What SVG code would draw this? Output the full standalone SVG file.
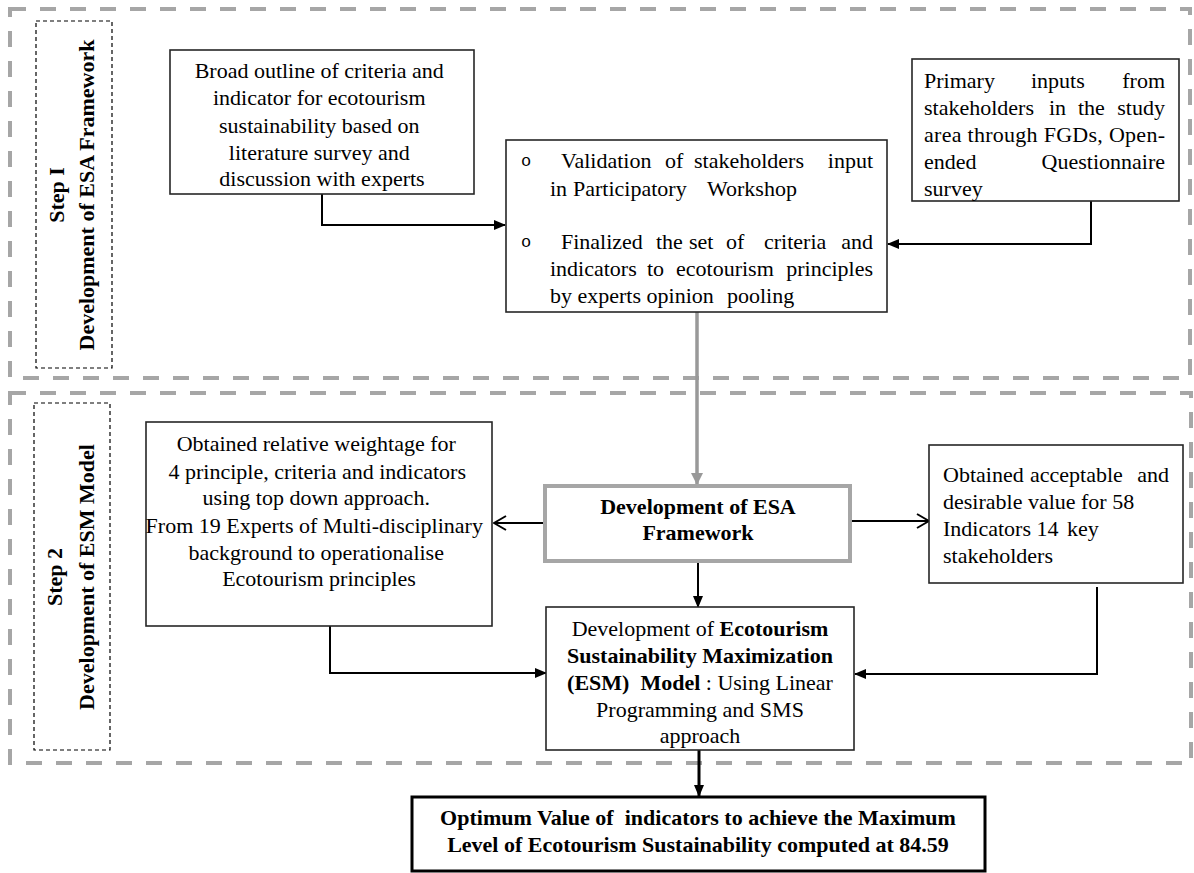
<svg xmlns="http://www.w3.org/2000/svg" width="1194" height="873" viewBox="0 0 1194 873">
<style>
text{font-family:"Liberation Serif","Times New Roman",serif;font-size:22px;fill:#000}
.b{font-weight:bold}
.box{fill:#fff;stroke:#262626;stroke-width:1.6}
.outer{fill:none;stroke:#A6A6A6;stroke-width:4;stroke-dasharray:16 14}
.step{fill:none;stroke:#000;stroke-width:1.2;stroke-dasharray:4 3}
.c{fill:none;stroke:#000;stroke-width:2}
text.bul{font-family:"Liberation Mono","Courier New",monospace;font-size:17px}
</style>
<defs>
<marker id="af" markerUnits="userSpaceOnUse" markerWidth="12" markerHeight="10" refX="11" refY="5" orient="auto"><path d="M0,0 L12,5 L0,10 z" fill="#000"/></marker>
<marker id="ao" markerUnits="userSpaceOnUse" markerWidth="14" markerHeight="16" refX="13" refY="8" orient="auto"><path d="M1,1 L13,8 L1,15" fill="none" stroke="#000" stroke-width="2"/></marker>
<marker id="ag" markerUnits="userSpaceOnUse" markerWidth="12" markerHeight="12" refX="11" refY="6" orient="auto"><path d="M0,0 L12,6 L0,12 z" fill="#999"/></marker>
</defs>

<g id="step1-frame">
<rect class="outer" x="10" y="9" width="1180" height="369"/>
<rect class="step" x="36" y="21" width="76" height="347"/>
<text class="b" transform="translate(64,195) rotate(-90)" text-anchor="middle">Step I</text>
<text class="b" transform="translate(94,195) rotate(-90)" text-anchor="middle">Development of ESA Framework</text>
</g>

<g id="step2-frame">
<rect class="outer" x="10" y="393" width="1181" height="370"/>
<rect class="step" x="34" y="403" width="76" height="347"/>
<text class="b" transform="translate(62,577) rotate(-90)" text-anchor="middle">Step 2</text>
<text class="b" transform="translate(94,577) rotate(-90)" text-anchor="middle">Development of ESM Model</text>
</g>

<g id="connectors">
<path class="c" d="M322,194 V225 H505" marker-end="url(#af)"/>
<path class="c" d="M1091,201 V244 H888" marker-end="url(#af)"/>
<path fill="none" stroke="#999" stroke-width="3.5" d="M697,312 V484" marker-end="url(#ag)"/>
<path class="c" d="M543,523 H494" marker-end="url(#ao)"/>
<path class="c" d="M850,521 H929" marker-end="url(#ao)"/>
<path class="c" d="M698,563 V607" marker-end="url(#af)"/>
<path class="c" d="M330,626 V673 H546" marker-end="url(#af)"/>
<path class="c" d="M1097,587 V674 H855" marker-end="url(#af)"/>
<path fill="none" stroke="#000" stroke-width="3" d="M699,740 V796" marker-end="url(#af)"/>
</g>

<g id="node-broad-outline">
<rect class="box" x="170" y="50" width="304" height="144"/>
<text text-anchor="middle" x="322">
<tspan x="322" y="78">Broad outline of criteria and</tspan>
<tspan x="322" y="105">indicator for ecotourism</tspan>
<tspan x="322" y="133">sustainability based on</tspan>
<tspan x="322" y="160">literature survey and</tspan>
<tspan x="322" y="186">discussion with experts</tspan>
</text>
</g>

<g id="node-validation">
<rect class="box" x="506" y="140" width="381" height="172"/>
<text class="bul" x="521" y="166">o</text>
<text class="bul" x="521" y="247">o</text>
<text y="168"><tspan x="561">Validation</tspan><tspan x="665">of</tspan><tspan x="694">stakeholders</tspan><tspan x="873" text-anchor="end">input</tspan></text>
<text y="196"><tspan x="550">in</tspan><tspan x="573">Participatory</tspan><tspan x="707">Workshop</tspan></text>
<text y="249"><tspan x="561">Finalized</tspan><tspan x="656">the</tspan><tspan x="689">set</tspan><tspan x="726">of</tspan><tspan x="764">criteria</tspan><tspan x="873" text-anchor="end">and</tspan></text>
<text y="276"><tspan x="550">indicators</tspan><tspan x="647">to</tspan><tspan x="676">ecotourism</tspan><tspan x="873" text-anchor="end">principles</tspan></text>
<text y="303"><tspan x="550">by experts opinion</tspan><tspan x="727">pooling</tspan></text>
</g>

<g id="node-primary-inputs">
<rect class="box" x="912" y="59" width="267" height="142"/>
<text y="88"><tspan x="924">Primary</tspan><tspan x="1031">inputs</tspan><tspan x="1165" text-anchor="end">from</tspan></text>
<text y="115"><tspan x="924">stakeholders</tspan><tspan x="1049">in</tspan><tspan x="1078">the</tspan><tspan x="1165" text-anchor="end">study</tspan></text>
<text x="924" y="142" textLength="241" lengthAdjust="spacing">area through FGDs, Open-</text>
<text y="169"><tspan x="924">ended</tspan><tspan x="1165" text-anchor="end">Questionnaire</tspan></text>
<text x="924" y="196">survey</text>
</g>

<g id="node-esa-framework">
<rect x="545" y="486" width="305" height="75" fill="#fff" stroke="#A6A6A6" stroke-width="4"/>
<text class="b" text-anchor="middle"><tspan x="698" y="514">Development of ESA</tspan><tspan x="698" y="540">Framework</tspan></text>
</g>

<g id="node-weightage">
<rect class="box" x="146" y="422" width="346" height="204"/>
<text text-anchor="middle">
<tspan x="319" y="451">Obtained relative weightage for</tspan>
<tspan x="320" y="479">4 principle, criteria and indicators</tspan>
<tspan x="319" y="505">using top down approach.</tspan>
<tspan x="317" y="533">From 19 Experts of Multi-disciplinary</tspan>
<tspan x="319" y="560">background to operationalise</tspan>
<tspan x="319" y="586">Ecotourism principles</tspan>
</text>
</g>

<g id="node-acceptable">
<rect class="box" x="929" y="445" width="254" height="138"/>
<text y="482"><tspan x="943">Obtained</tspan><tspan x="1030">acceptable</tspan><tspan x="1169" text-anchor="end">and</tspan></text>
<text x="943" y="509">desirable value for 58</text>
<text y="536"><tspan x="943">Indicators 14</tspan><tspan x="1067">key</tspan></text>
<text x="943" y="563">stakeholders</text>
</g>

<g id="node-esm-model">
<rect class="box" x="546" y="607" width="308" height="143"/>
<text text-anchor="middle" x="700" y="636">Development of <tspan class="b">Ecotourism</tspan></text>
<text class="b" text-anchor="middle" x="700" y="663">Sustainability Maximization</text>
<text text-anchor="middle" x="700" y="690"><tspan class="b">(ESM)&#160; Model</tspan> : Using Linear</text>
<text text-anchor="middle" x="700" y="717">Programming and SMS</text>
<text text-anchor="middle" x="700" y="743">approach</text>
</g>

<g id="node-optimum">
<rect x="412" y="797" width="573" height="74" fill="#fff" stroke="#000" stroke-width="3"/>
<text class="b" text-anchor="middle"><tspan x="698" y="825">Optimum Value of&#160; indicators to achieve the Maximum</tspan><tspan x="698" y="852">Level of Ecotourism Sustainability computed at 84.59</tspan></text>
</g>
</svg>
